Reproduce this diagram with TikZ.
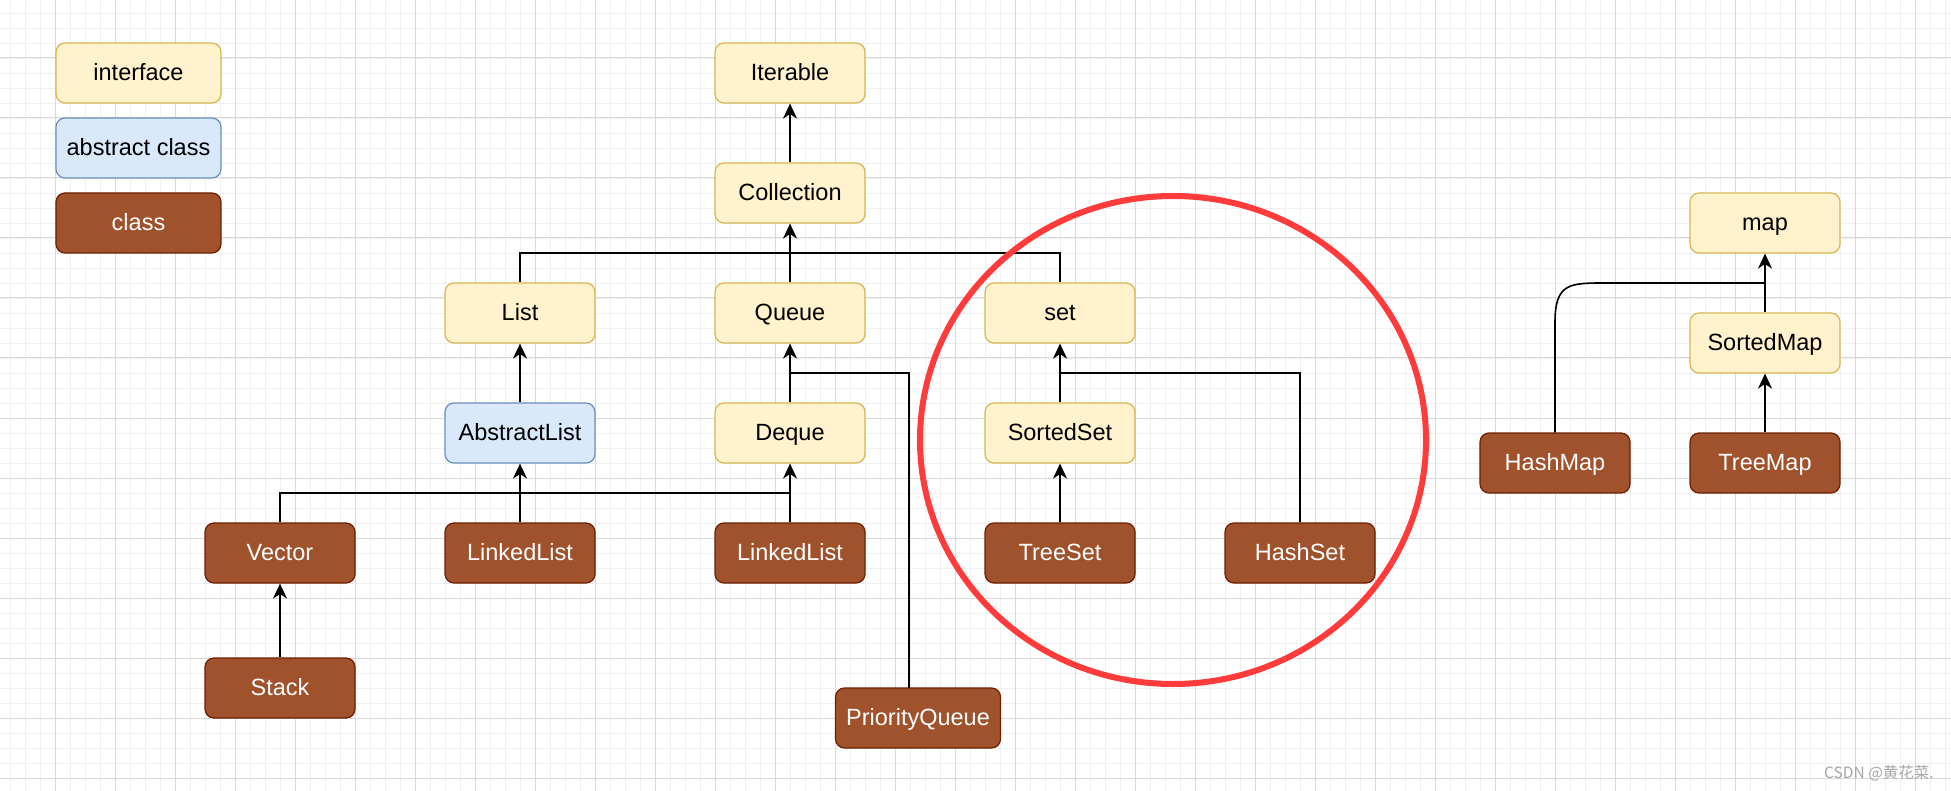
\documentclass[tikz,border=0pt]{standalone}
\usepackage{fontspec}
\setmainfont{Liberation Sans}
\newfontfamily\cjk{Noto Sans CJK SC}
\usetikzlibrary{arrows.meta}
\definecolor{ifill}{HTML}{FFF2CC}
\definecolor{idraw}{HTML}{D6B656}
\definecolor{afill}{HTML}{DAE8FC}
\definecolor{adraw}{HTML}{6C8EBF}
\definecolor{cfill}{HTML}{A0522D}
\definecolor{cdraw}{HTML}{6D1F00}
\definecolor{minorc}{HTML}{F0F0F0}
\definecolor{majorc}{HTML}{D9D9D9}
\definecolor{ringc}{HTML}{FF3B3B}
\tikzset{
  box/.style={rounded corners=9pt, line width=1.2pt, minimum width=150pt, minimum height=60pt,
    inner sep=0pt, align=center, text height=17.5pt, text depth=3pt,
    font=\fontsize{23.5}{28}\selectfont},
  iface/.style={box, fill=ifill, draw=idraw, text=black},
  aclass/.style={box, fill=afill, draw=adraw, text=black},
  klass/.style={box, fill=cfill, draw=cdraw, text=white},
  ln/.style={line width=1.6pt, draw=black},
  arr/.style={ln, -{Stealth[length=15pt,width=14pt,inset=4.5pt]}},
  minorgrid/.style={draw=minorc, line width=0.8pt},
  majorgrid/.style={draw=majorc, line width=1pt},
}
\begin{document}
\begin{tikzpicture}[x=1pt,y=-1pt]
\useasboundingbox (0,0) rectangle (1951,791);
\fill[white] (0,0) rectangle (1951,791);
% grid
\foreach \x in {10,25,...,1950} \draw[minorgrid] (\x,0) -- (\x,791);
\foreach \y in {13,28,...,790} \draw[minorgrid] (0,\y) -- (1951,\y);
\foreach \x in {55,115,...,1950} \draw[majorgrid] (\x,0) -- (\x,791);
\foreach \y in {58,118,...,790} \draw[majorgrid] (0,\y) -- (1951,\y);

% legend
\node[iface, minimum width=165pt] (lgi) at (138.5,73) {interface};
\node[aclass, minimum width=165pt] (lga) at (138.5,148) {abstract class};
\node[klass, minimum width=165pt] (lgc) at (138.5,223) {class};

% collection hierarchy
\node[iface] (iter) at (790,73) {Iterable};
\node[iface] (coll) at (790,193) {Collection};
\node[iface] (list) at (520,313) {List};
\node[iface] (queue) at (790,313) {Queue};
\node[iface] (set) at (1060,313) {set};
\node[aclass] (alist) at (520,433) {AbstractList};
\node[iface] (deque) at (790,433) {Deque};
\node[iface] (sset) at (1060,433) {SortedSet};
\node[klass] (vector) at (280,553) {Vector};
\node[klass] (ll1) at (520,553) {LinkedList};
\node[klass] (ll2) at (790,553) {LinkedList};
\node[klass] (tset) at (1060,553) {TreeSet};
\node[klass] (hset) at (1300,553) {HashSet};
\node[klass] (stack) at (280,688) {Stack};
\node[klass, minimum width=165pt] (pq) at (918,718) {PriorityQueue};

% map hierarchy
\node[iface] (map) at (1765,223) {map};
\node[iface] (smap) at (1765,343) {SortedMap};
\node[klass] (hmap) at (1555,463) {HashMap};
\node[klass] (tmap) at (1765,463) {TreeMap};

% junction points
\coordinate (jc) at (790,253);
\coordinate (jq) at (790,373);
\coordinate (js) at (1060,373);
\coordinate (jv) at (790,493);
\coordinate (jm) at (1765,283);
\coordinate (pqtop) at (909,688);
\coordinate (hmbend) at (1555,322);
\coordinate (hmend) at (1605,283);

% connectors
\draw[arr] (coll) -- (iter);
\draw[arr] (queue) -- (coll);
\draw[ln] (list.north) |- (jc) -| (set.north);
\draw[arr] (alist) -- (list);
\draw[arr] (deque) -- (queue);
\draw[ln] (pqtop) |- (jq);
\draw[arr] (sset) -- (set);
\draw[ln] (hset.north) |- (js);
\draw[arr] (tset) -- (sset);
\draw[arr] (ll1) -- (alist);
\draw[arr] (ll2) -- (deque);
\draw[ln] (vector.north) |- (jv);
\draw[arr] (stack) -- (vector);
\draw[arr] (tmap) -- (smap);
\draw[arr] (smap) -- (map);
\draw[ln] (hmap.north) -- (hmbend) .. controls (1555,283) and (1570,283) .. (hmend) -- (jm);

% highlight ring
\draw[draw=ringc, line width=6pt] (1173,440) ellipse [x radius=253pt, y radius=244pt];

% watermark
\node[anchor=west, text=gray!70, inner sep=0pt, font=\cjk\fontsize{15.5}{18}\selectfont] (wm) at (1824,773) {CSDN @黄花菜.};
\end{tikzpicture}
\end{document}
